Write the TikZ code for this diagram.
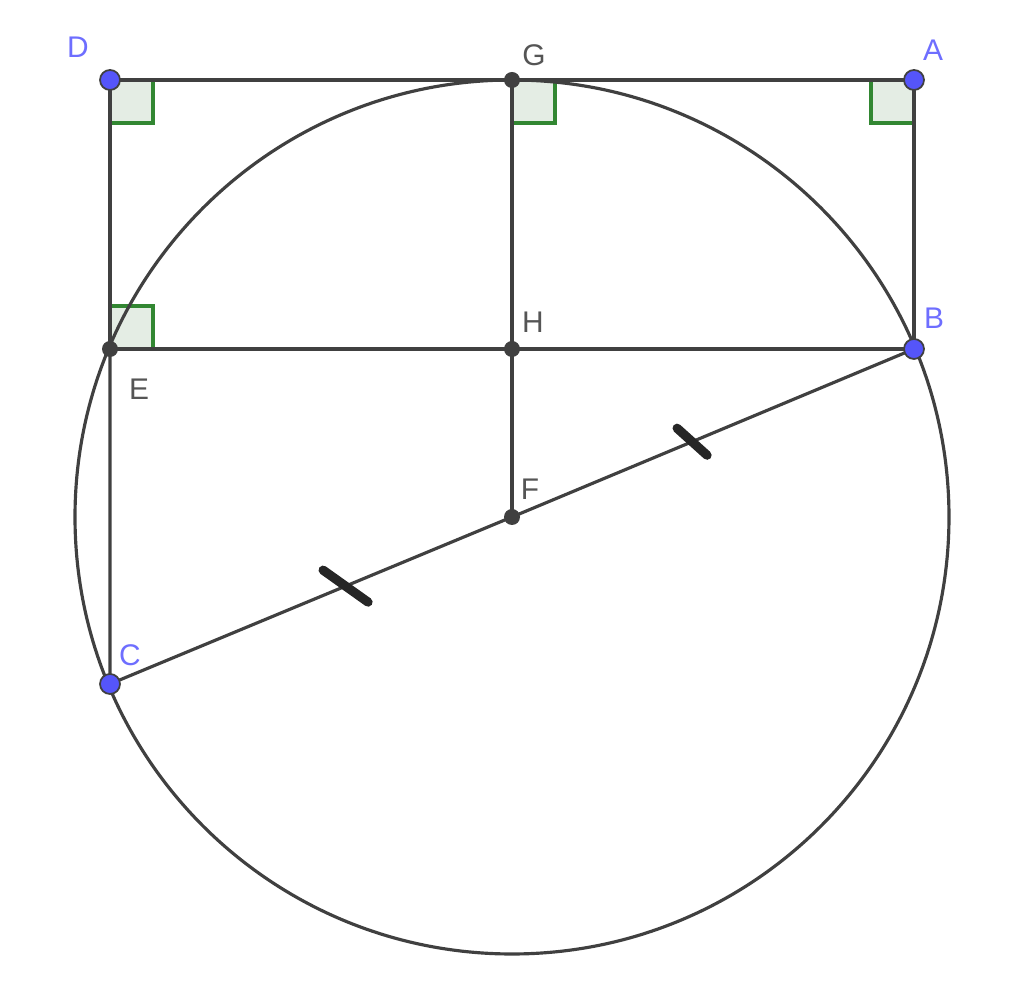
\documentclass[tikz,border=0pt]{standalone}
\usepackage{fontspec}
\setmainfont{Liberation Sans}
\usetikzlibrary{calc}
\definecolor{ptblue}{RGB}{85,85,250}
\definecolor{lblblue}{RGB}{110,110,255}
\definecolor{ggray}{RGB}{64,64,64}
\definecolor{lblgray}{RGB}{85,85,85}
\definecolor{angleline}{RGB}{50,135,50}
\definecolor{anglefill}{RGB}{228,237,228}
\tikzset{
  seg/.style={draw=ggray,line width=0.9pt},
  rangle/.style={draw=angleline,fill=anglefill,line width=0.9pt},
  eqmark/.style={draw=black!85,line width=2.6pt,line cap=round},
  freept/.style={fill=ptblue,draw=ggray,line width=0.5pt},
  fixpt/.style={fill=ggray},
  blbl/.style={text=lblblue,font=\fontsize{8.5}{10}\selectfont,inner sep=0pt},
  glbl/.style={text=lblgray,font=\fontsize{8.5}{10}\selectfont,inner sep=0pt}
}

\begin{document}
\begin{tikzpicture}
\useasboundingbox (0,0) rectangle (10.24,9.90);
\coordinate (F) at (5.12,4.73);
\coordinate (D) at (1.10,9.10);
\coordinate (G) at (5.12,9.10);
\coordinate (A) at (9.14,9.10);
\coordinate (E) at (1.10,6.41);
\coordinate (H) at (5.12,6.41);
\coordinate (B) at (9.14,6.41);
\coordinate (C) at (1.10,3.06);
% right angles
\path[rangle] (D) rectangle ++(0.43,-0.43);
\path[rangle] (G) rectangle ++(0.43,-0.43);
\path[rangle] (A) rectangle ++(-0.43,-0.43);
\path[rangle] (E) rectangle ++(0.43,0.43);
% circle and segments
\draw[seg] (F) circle (4.37);
\draw[seg] (D) -- (G) -- (A) -- (B) -- (H) -- (E) -- (D);
\draw[seg] (E) -- (C) -- (F) -- (B);
\draw[seg] (G) -- (H) -- (F);
% equal marks
\draw[eqmark] ($(F)!0.414!(C)$) ++(-0.225,0.16) -- ++(0.45,-0.32);
\draw[eqmark] ($(F)!0.448!(B)$) ++(-0.15,0.135) -- ++(0.30,-0.27);
% points
\foreach \pt/\dx/\dy in {G/0.22/0.25,H/0.21/0.27,E/0.29/-0.40,F/0.18/0.28}{
  \fill[fixpt] (\pt) circle (0.08);
  \path (\pt) ++(\dx,\dy) node[glbl] (l\pt) {\pt};
}
\foreach \pt/\dx/\dy in {D/-0.32/0.33,A/0.19/0.30,B/0.20/0.31,C/0.20/0.29}{
  \filldraw[freept] (\pt) circle (0.1);
  \path (\pt) ++(\dx,\dy) node[blbl] (l\pt) {\pt};
}
\end{tikzpicture}
\end{document}
